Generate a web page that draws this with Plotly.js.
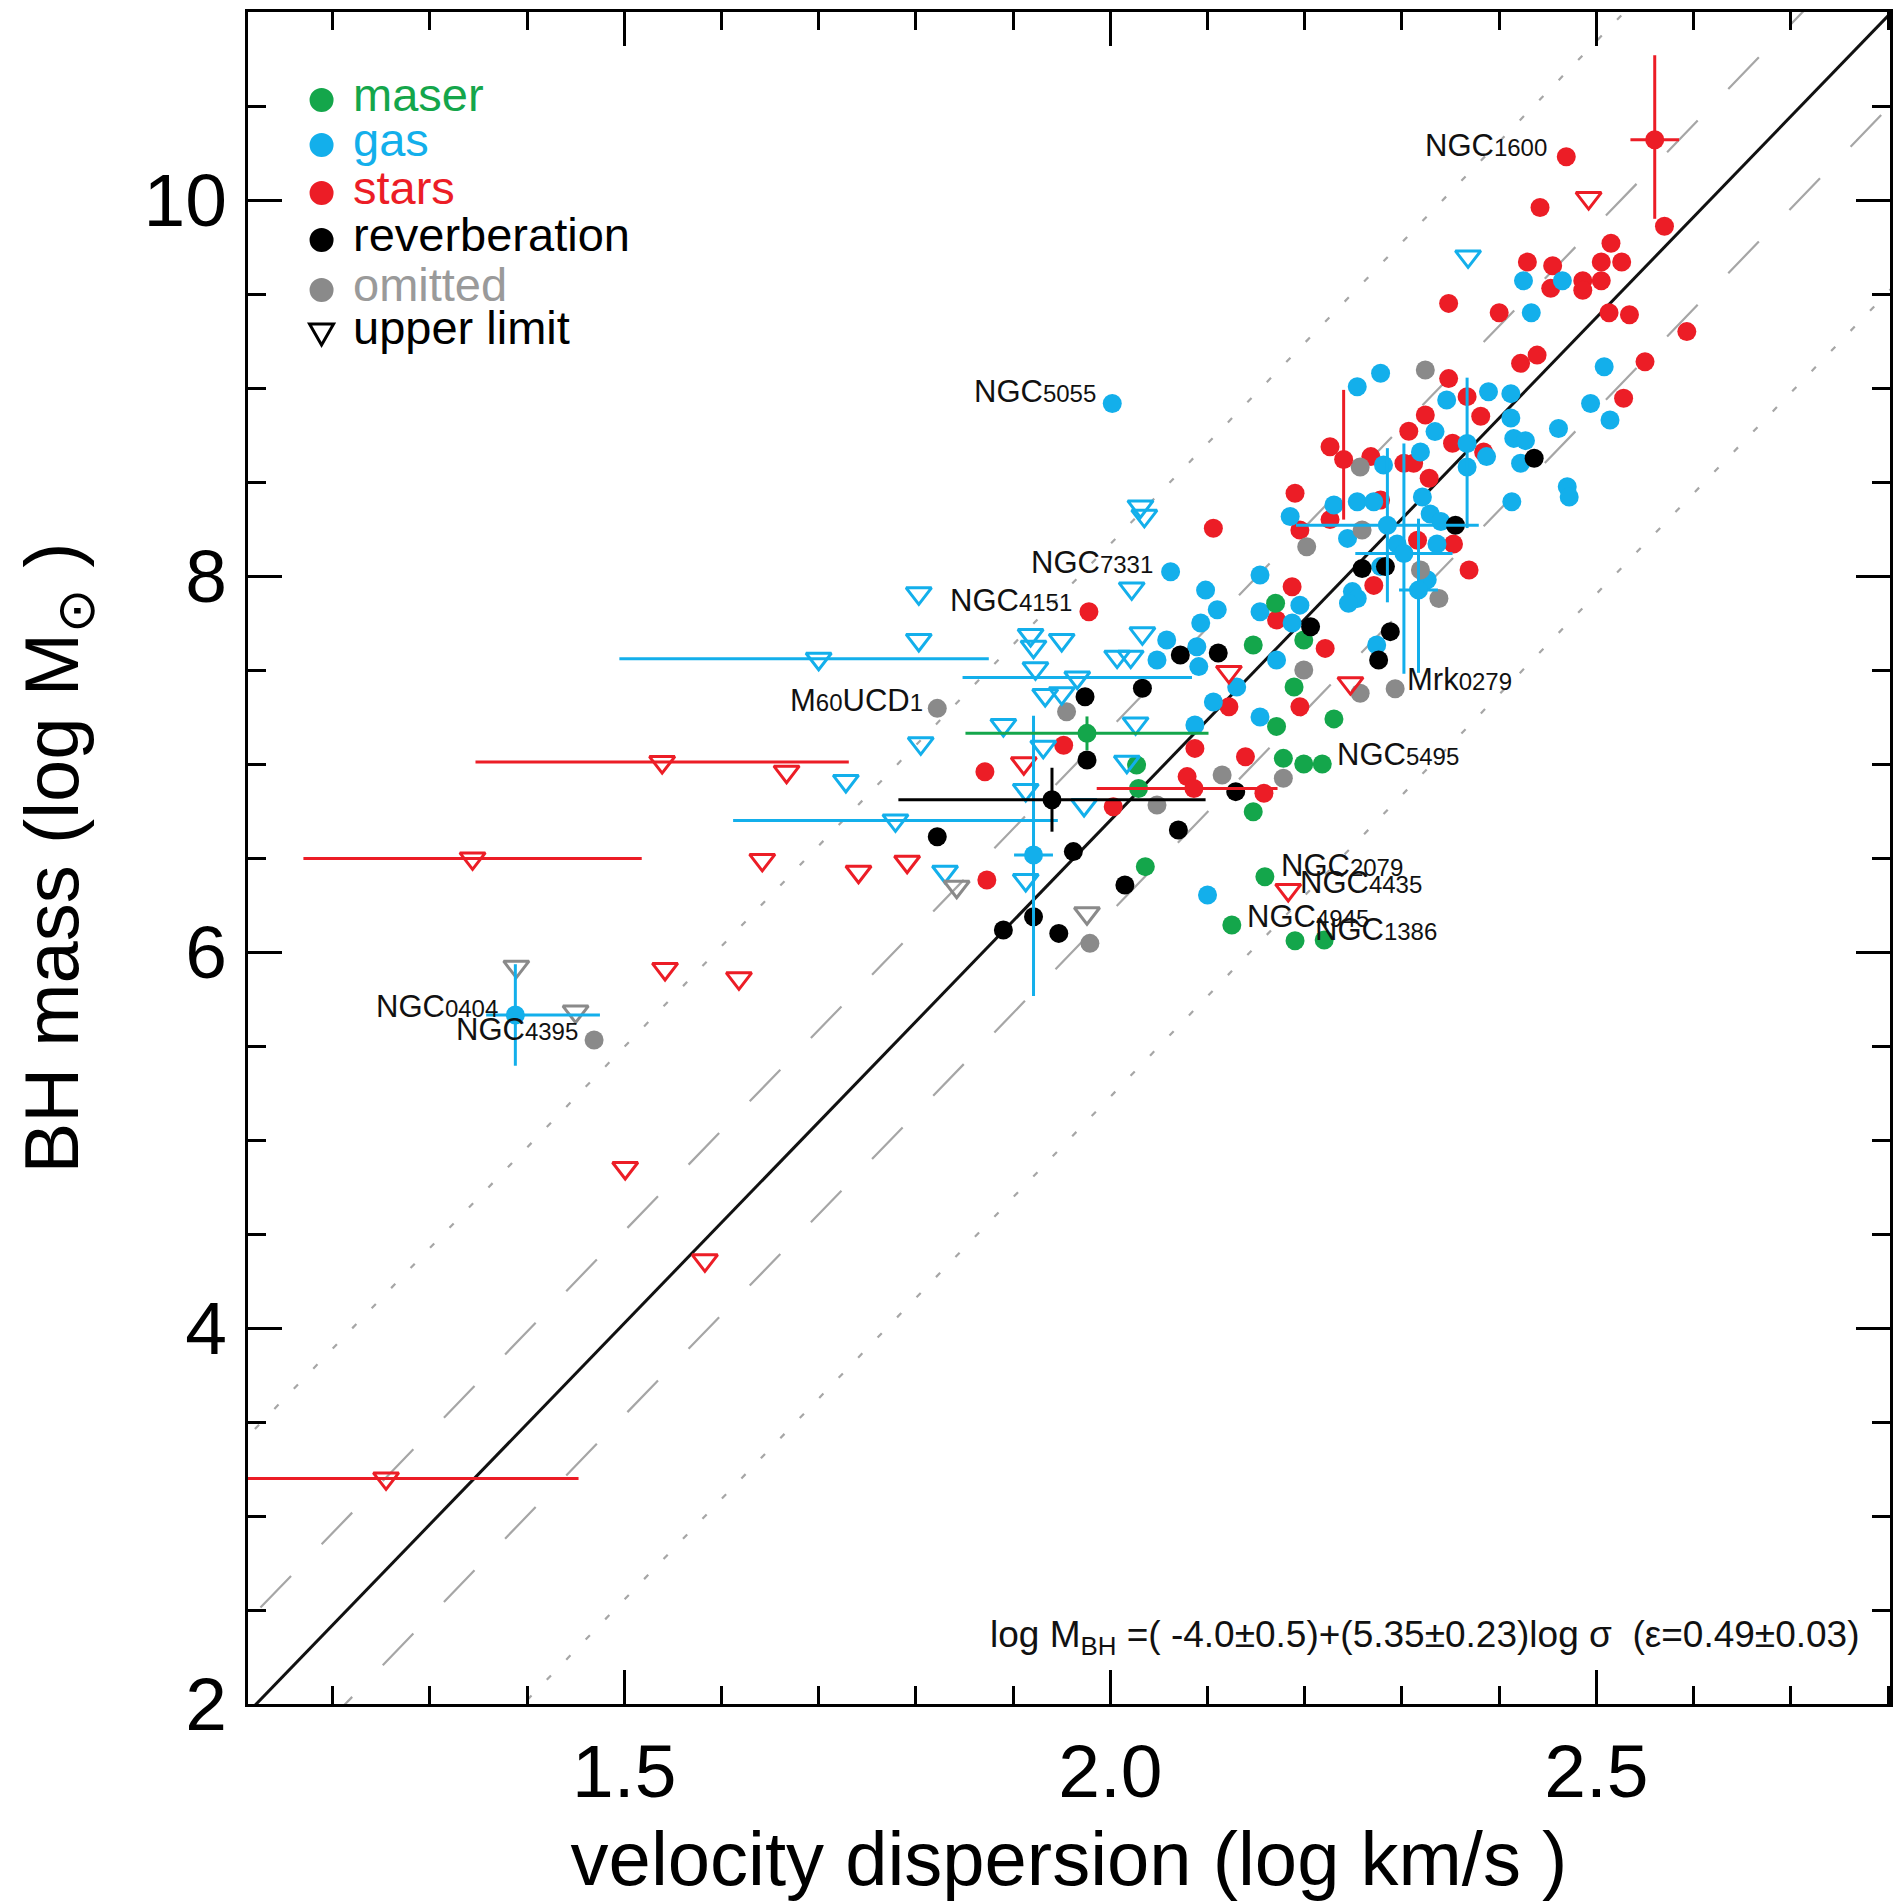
<!DOCTYPE html>
<html><head><meta charset="utf-8">
<script src="https://cdn.plot.ly/plotly-3.0.1.min.js"></script>
<style>html,body{margin:0;padding:0;background:#fff}#chart{width:1893px;height:1901px}</style>
</head><body><div id="chart"></div>
<script>
// ---------------- data (log sigma, log M_BH) ----------------
const maserX = [2.170, 2.147, 2.199, 2.189, 2.230, 2.027, 2.029, 2.036, 2.147, 2.159, 2.125, 2.178, 2.171, 2.190, 2.199, 2.218, 2.220];
const maserY = [7.855, 7.633, 7.66, 7.41, 7.24, 6.995, 6.87, 6.454, 6.746, 6.40, 6.144, 7.03, 7.20, 6.06, 7.00, 7.00, 6.064];
const maserErrX = [1.976], maserErrY = [7.163];
const maserErrXm = [0.125], maserErrXp = [0.125], maserErrYm = [0.09], maserErrYp = [0.09];

const gasX = [2.425, 2.465, 2.433,
  2.254, 2.278, 2.346, 2.389, 2.412, 2.508, 2.494, 2.514, 2.461, 2.412,
  2.415, 2.427, 2.422, 2.387, 2.367, 2.334, 2.319, 2.281, 2.413, 2.470,
  2.472, 2.230, 2.254, 2.271, 2.185, 2.244, 2.295, 2.321, 2.329, 2.340,
  2.336, 2.278, 2.249, 2.254, 2.245, 2.326, 2.154, 2.098, 2.110, 2.093,
  2.154, 2.195, 2.187, 2.171, 2.130, 2.106, 2.154, 2.274,
  2.002, 2.062, 2.058, 2.048, 2.089, 2.091, 2.100, 2.087];
const gasY = [9.57, 9.57, 9.40,
  9.007, 9.078, 8.936, 8.98, 8.97, 9.113, 8.918, 8.83, 8.785, 8.84,
  8.732, 8.72, 8.60, 8.635, 8.58, 8.768, 8.66, 8.59, 8.395, 8.475,
  8.42, 8.378, 8.395, 8.395, 8.316, 8.20, 8.17, 8.42, 8.33, 8.29,
  8.17, 8.05, 7.917, 7.88, 7.855, 7.98, 8.005, 7.925, 7.82, 7.75,
  7.81, 7.845, 7.75, 7.553, 7.41, 7.33, 7.25, 7.633,
  8.918, 8.023, 7.66, 7.553, 7.624, 7.518, 6.303, 7.207];
const gasErrX = [2.285, 2.302, 2.317, 2.367, 1.921, 1.388];
const gasErrY = [8.27, 8.12, 7.925, 8.705, 6.516, 5.665];
const gasErrXm = [0.094, 0.05, 0.02, 0, 0.02, 0.03];
const gasErrXp = [0.094, 0.05, 0.02, 0, 0.02, 0.087];
const gasErrYm = [0.41, 0.64, 0.44, 0.45, 0.75, 0.27];
const gasErrYp = [0.41, 0.585, 0.38, 0.35, 0.74, 0.27];

const starsX = [2.469, 2.442, 2.570, 2.515, 2.429, 2.455, 2.505, 2.526, 2.453, 2.486, 2.486, 2.505, 2.348, 2.400, 2.513, 2.534, 2.593,
  2.422, 2.439, 2.550, 2.528, 2.348, 2.367, 2.381, 2.324, 2.307, 2.352,
  2.384, 2.226, 2.268, 2.302, 2.312, 2.328, 2.190, 2.106, 2.278, 2.226,
  2.195, 2.316, 2.353, 2.369, 2.271, 2.187, 2.171, 2.221, 2.195, 2.122,
  1.978, 1.952, 1.871, 2.003, 2.087, 2.079, 2.139, 2.158, 1.873];
const starsY = [10.23, 9.96, 9.86, 9.77, 9.67, 9.65, 9.67, 9.67, 9.53, 9.57, 9.52, 9.57, 9.45, 9.40, 9.40, 9.39, 9.30,
  9.131, 9.175, 9.14, 8.945, 9.05, 8.954, 8.85, 8.856, 8.77, 8.706,
  8.66, 8.688, 8.635, 8.60, 8.60, 8.52, 8.44, 8.254, 8.404, 8.30,
  8.245, 8.19, 8.17, 8.032, 7.95, 7.943, 7.766, 7.615, 7.305, 7.305,
  7.81, 7.10, 6.959, 6.773, 7.083, 6.933, 7.039, 6.844, 6.383];
const starsErrX = [2.560, 2.240, 2.086];
const starsErrY = [10.32, 8.62, 6.87];
const starsErrXm = [0.025, 0, 0.10], starsErrXp = [0.025, 0, 0.086];
const starsErrYm = [0.42, 0.32, 0], starsErrYp = [0.45, 0.37, 0];

const revX = [2.436, 2.355, 2.259, 2.283, 2.288, 2.206, 2.276, 2.111, 2.072, 2.033, 1.974, 1.976, 1.822, 1.962, 2.070, 2.015, 1.890, 1.921, 1.947, 2.129];
const revY = [8.626, 8.27, 8.04, 8.05, 7.704, 7.73, 7.553, 7.59, 7.58, 7.403, 7.358, 7.021, 6.613, 6.534, 6.649, 6.356, 6.117, 6.188, 6.099, 6.853];
const revErrX = [1.940], revErrY = [6.81];
const revErrXm = [0.158], revErrXp = [0.158], revErrYm = [0.17], revErrYp = [0.17];

const omitX = [2.324, 2.257, 2.259, 2.202, 2.319, 2.338, 2.199, 2.257, 2.293, 1.822, 1.955, 2.048, 1.979, 2.115, 2.178, 1.469];
const omitY = [9.096, 8.58, 8.245, 8.156, 8.032, 7.88, 7.50, 7.376, 7.40, 7.296, 7.278, 6.782, 6.046, 6.941, 6.924, 5.532];

// upper limits
const gasUlX = [2.368, 2.031, 2.035, 2.022, 1.803, 1.803, 1.918, 1.921, 1.950, 2.033, 2.007, 2.021, 1.923, 1.933, 1.950, 1.890, 2.026, 1.805, 1.931, 2.017, 1.913, 1.973, 1.830, 1.913, 1.728];
const gasUlY = [9.70, 8.37, 8.32, 7.934, 7.908, 7.66, 7.686, 7.624, 7.66, 7.695, 7.571, 7.571, 7.509, 7.367, 7.376, 7.207, 7.216, 7.11, 7.092, 7.012, 6.862, 6.782, 6.427, 6.383, 6.91];
const gasUlErrX = [1.966, 1.70, 1.779], gasUlErrY = [7.46, 7.56, 6.70];
const gasUlErrXm = [0.118, 0.205, 0.167], gasUlErrXp = [0.118, 0.175, 0.167];

const starsUlX = [2.492, 2.122, 2.247, 2.183, 1.911, 1.791, 1.741, 1.667, 1.642, 1.542, 1.618, 1.501, 1.583];
const starsUlY = [10.01, 7.49, 7.43, 6.33, 7.004, 6.48, 6.427, 6.959, 6.49, 5.91, 5.86, 4.851, 4.36];
const starsUlErrX = [1.539, 1.344, 1.255], starsUlErrY = [7.01, 6.498, 3.20];
const starsUlErrXm = [0.192, 0.174, 0.198], starsUlErrXp = [0.192, 0.174, 0.198];

const omitUlX = [1.842, 1.976, 1.389, 1.450];
const omitUlY = [6.347, 6.206, 5.922, 5.683];

// fit: log M = a + b log sigma, intrinsic scatter eps
const fitA = -4.0, fitB = 5.35, fitEps = 0.49;
const fitXs = [1.0, 3.0];

// labelled objects
const labelNames = ['NGC1600','NGC5055','NGC7331','NGC4151','M60UCD1','Mrk0279','NGC5495','NGC2079','NGC4435','NGC4945','NGC1386','NGC0404','NGC4395'];
const labelX = [2.451, 1.987, 2.046, 1.963, 1.809, 2.303, 2.231, 2.174, 2.193, 2.139, 2.208, 1.372, 1.455];
const labelY = [10.29, 8.98, 8.07, 7.87, 7.34, 7.45, 7.05, 6.46, 6.37, 6.19, 6.12, 5.71, 5.59];
const labelSide = ['right','right','right','right','right','left','left','left','left','left','left','right','right'];

const legendLabels = ['maser','gas','stars','reverberation','omitted','upper limit'];

// ---------------- styles ----------------
const C = {maser:'#14a64b', gas:'#13afeb', stars:'#ec1d26', rev:'#000000', omit:'#8a8a8a', omitText:'#9a9a9a'};
const DOT = 19, TRI = 22;

function dots(x, y, color){ return {type:'scatter', mode:'markers', x, y, hoverinfo:'skip',
  marker:{symbol:'circle', size:DOT, color, line:{width:0}}}; }
function tris(x, y, color){ return {type:'scatter', mode:'markers', x, y, hoverinfo:'skip',
  marker:{symbol:'triangle-down-open', size:TRI, color, line:{width:3, color}}}; }
function errs(base, xm, xp, ym, yp, color){
  base.error_x = {type:'data', symmetric:false, array:xp, arrayminus:xm, color, thickness:3, width:0};
  if(ym) base.error_y = {type:'data', symmetric:false, array:yp, arrayminus:ym, color, thickness:3, width:0};
  return base;
}
function fitLine(k, dash, color, width){
  return {type:'scatter', mode:'lines', x:fitXs, y:fitXs.map(v => fitA + fitB*v + k*fitEps),
    hoverinfo:'skip', line:{color, width, dash}};
}

const traces = [
  fitLine(3, '6px,22px', '#a6a6a6', 2.2),
  fitLine(-3, '6px,22px', '#a6a6a6', 2.2),
  fitLine(1, '44px,44px', '#a6a6a6', 2.2),
  fitLine(-1, '44px,44px', '#a6a6a6', 2.2),
  fitLine(0, 'solid', '#111', 3),
  dots(starsX, starsY, C.stars),
  dots(gasX, gasY, C.gas),
  dots(omitX, omitY, C.omit),
  dots(maserX, maserY, C.maser),
  dots(revX, revY, C.rev),
  tris(gasUlX, gasUlY, C.gas),
  tris(starsUlX, starsUlY, C.stars),
  tris(omitUlX, omitUlY, C.omit),
  errs(tris(gasUlErrX, gasUlErrY, C.gas), gasUlErrXm, gasUlErrXp, null, null, C.gas),
  errs(tris(starsUlErrX, starsUlErrY, C.stars), starsUlErrXm, starsUlErrXp, null, null, C.stars),
  errs(dots(gasErrX, gasErrY, C.gas), gasErrXm, gasErrXp, gasErrYm, gasErrYp, C.gas),
  errs(dots(starsErrX, starsErrY, C.stars), starsErrXm, starsErrXp, starsErrYm, starsErrYp, C.stars),
  errs(dots(maserErrX, maserErrY, C.maser), maserErrXm, maserErrXp, maserErrYm, maserErrYp, C.maser),
  errs(dots(revErrX, revErrY, C.rev), revErrXm, revErrXp, revErrYm, revErrYp, C.rev)
];

// ---------------- annotations ----------------
function smallDigits(s){ return s.replace(/(\d+)/g, '<span style="font-size:24px">$1</span>'); }
const annotations = labelNames.map((n, i) => ({
  x: labelX[i], y: labelY[i], xref:'x', yref:'y', text: smallDigits(n), showarrow:false,
  xanchor: labelSide[i], yanchor:'middle', font:{size:31, color:'#111'}
}));

const legendColors = [C.maser, C.gas, C.stars, C.rev, C.omitText, '#000'];
const legendRowY = [0.948, 0.9214, 0.893, 0.8652, 0.8357, 0.8103];
legendLabels.forEach((t, i) => {
  annotations.push({xref:'paper', yref:'paper', x:0.0630, y:legendRowY[i] + 0.0035, xanchor:'left', yanchor:'middle',
    text:t, showarrow:false, font:{size:47, color:legendColors[i]}});
});
const shapes = [];
const legendMarkColors = [C.maser, C.gas, C.stars, C.rev, C.omit];
legendMarkColors.forEach((c, i) => {
  shapes.push({type:'circle', xref:'paper', yref:'paper', xsizemode:'pixel', ysizemode:'pixel',
    xanchor:0.0448, yanchor:legendRowY[i], x0:-12, x1:12, y0:-12, y1:12, fillcolor:c, line:{width:0}});
});
shapes.push({type:'path', xref:'paper', yref:'paper', xsizemode:'pixel', ysizemode:'pixel',
  xanchor:0.0448, yanchor:legendRowY[5], path:'M-12,9L12,9L0,-12Z', line:{color:'#000', width:3}, fillcolor:'rgba(0,0,0,0)'});

annotations.push({xref:'paper', yref:'paper', x:0.9823, y:0.0396, xanchor:'right', yanchor:'middle', showarrow:false,
  text:'log M<sub>BH</sub> =( -4.0±0.5)+(5.35±0.23)log σ\u00a0\u00a0(ε=0.49±0.03)', font:{size:37, color:'#111'}});

const axisCommon = {showgrid:false, zeroline:false, showline:true, linecolor:'#000', linewidth:3, mirror:'ticks',
  ticks:'inside', ticklen:34, tickwidth:3, tickcolor:'#000', tickfont:{size:75, color:'#000'}};

const layout = {
  width:1893, height:1901, margin:{l:248, r:3, t:12, b:197, pad:0},
  paper_bgcolor:'#fff', plot_bgcolor:'#fff', showlegend:false,
  font:{family:'"Liberation Sans", Arial, Helvetica, sans-serif', color:'#000'},
  xaxis: Object.assign({}, axisCommon, {range:[1.113, 2.802], tick0:0, dtick:0.5, tickformat:'.1f', ticklabelstandoff:0,
    minor:{tick0:0, dtick:0.1, ticks:'inside', ticklen:18, tickwidth:3, tickcolor:'#000', showgrid:false},
    title:{text:'velocity dispersion (log km/s )', font:{size:76}, standoff:48}}),
  yaxis: Object.assign({}, axisCommon, {range:[2, 11], tick0:0, dtick:2, ticklabelstandoff:3,
    minor:{tick0:0, dtick:0.5, ticks:'inside', ticklen:18, tickwidth:3, tickcolor:'#000', showgrid:false},
    title:{text:'BH mass (log M<sub>⊙</sub> )', font:{size:76}, standoff:40}}),
  annotations, shapes
};

Plotly.newPlot('chart', traces, layout, {displayModeBar:false, staticPlot:true});
</script></body></html>
